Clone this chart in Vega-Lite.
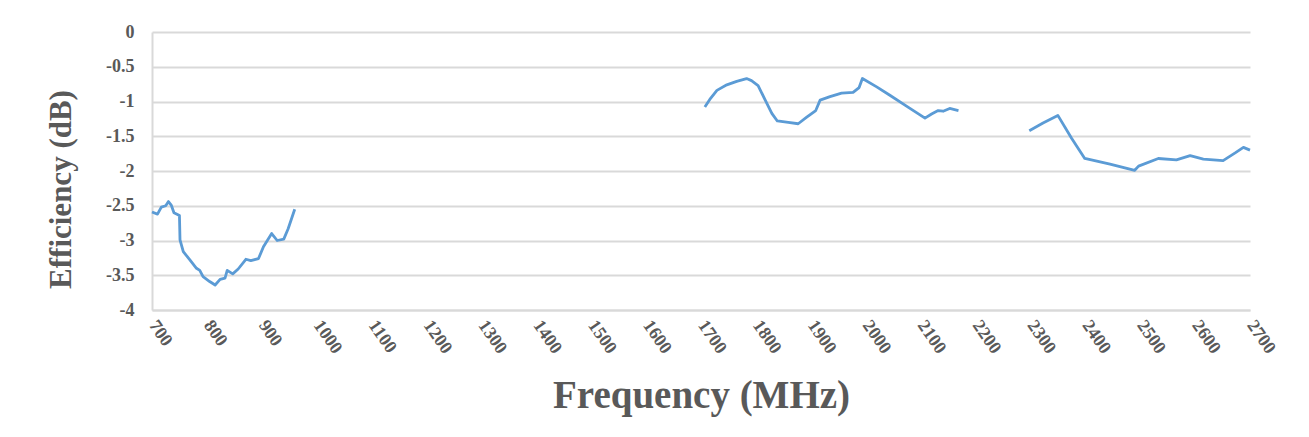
{
  "$schema": "https://vega.github.io/schema/vega-lite/v6.json",
  "autosize": {"type": "none"},
  "padding": {"left": 152, "top": 32, "right": 59, "bottom": 127},
  "width": 1098,
  "height": 278,
  "background": "white",
  "config": {
    "view": {"stroke": null},
    "font": "Liberation Serif"
  },
  "data": {
    "values": [
      {"seg": "a", "f": 700, "eff": -2.59},
      {"seg": "a", "f": 710, "eff": -2.62},
      {"seg": "a", "f": 717, "eff": -2.52},
      {"seg": "a", "f": 725, "eff": -2.5},
      {"seg": "a", "f": 730, "eff": -2.44},
      {"seg": "a", "f": 735, "eff": -2.49},
      {"seg": "a", "f": 740, "eff": -2.6},
      {"seg": "a", "f": 750, "eff": -2.64},
      {"seg": "a", "f": 751, "eff": -2.99},
      {"seg": "a", "f": 757, "eff": -3.16},
      {"seg": "a", "f": 769, "eff": -3.28},
      {"seg": "a", "f": 781, "eff": -3.4},
      {"seg": "a", "f": 787, "eff": -3.43},
      {"seg": "a", "f": 793, "eff": -3.52},
      {"seg": "a", "f": 805, "eff": -3.59},
      {"seg": "a", "f": 815, "eff": -3.64},
      {"seg": "a", "f": 824, "eff": -3.56},
      {"seg": "a", "f": 833, "eff": -3.54},
      {"seg": "a", "f": 837, "eff": -3.43},
      {"seg": "a", "f": 847, "eff": -3.48},
      {"seg": "a", "f": 857, "eff": -3.41},
      {"seg": "a", "f": 871, "eff": -3.27},
      {"seg": "a", "f": 880, "eff": -3.29},
      {"seg": "a", "f": 894, "eff": -3.26},
      {"seg": "a", "f": 903, "eff": -3.09},
      {"seg": "a", "f": 918, "eff": -2.9},
      {"seg": "a", "f": 928, "eff": -3.0},
      {"seg": "a", "f": 940, "eff": -2.98},
      {"seg": "a", "f": 948, "eff": -2.83},
      {"seg": "a", "f": 960, "eff": -2.55},
      {"seg": "b", "f": 1707, "eff": -1.08},
      {"seg": "b", "f": 1716, "eff": -0.97},
      {"seg": "b", "f": 1729, "eff": -0.84},
      {"seg": "b", "f": 1747, "eff": -0.76},
      {"seg": "b", "f": 1765, "eff": -0.71},
      {"seg": "b", "f": 1783, "eff": -0.67},
      {"seg": "b", "f": 1792, "eff": -0.7},
      {"seg": "b", "f": 1804, "eff": -0.77},
      {"seg": "b", "f": 1817, "eff": -0.98},
      {"seg": "b", "f": 1829, "eff": -1.17},
      {"seg": "b", "f": 1839, "eff": -1.28},
      {"seg": "b", "f": 1859, "eff": -1.3},
      {"seg": "b", "f": 1877, "eff": -1.32},
      {"seg": "b", "f": 1892, "eff": -1.23},
      {"seg": "b", "f": 1909, "eff": -1.13},
      {"seg": "b", "f": 1917, "eff": -0.98},
      {"seg": "b", "f": 1935, "eff": -0.93},
      {"seg": "b", "f": 1956, "eff": -0.88},
      {"seg": "b", "f": 1977, "eff": -0.87},
      {"seg": "b", "f": 1988, "eff": -0.8},
      {"seg": "b", "f": 1994, "eff": -0.67},
      {"seg": "b", "f": 2020, "eff": -0.79},
      {"seg": "b", "f": 2044, "eff": -0.91},
      {"seg": "b", "f": 2075, "eff": -1.07},
      {"seg": "b", "f": 2108, "eff": -1.24},
      {"seg": "b", "f": 2120, "eff": -1.18},
      {"seg": "b", "f": 2132, "eff": -1.13},
      {"seg": "b", "f": 2141, "eff": -1.14},
      {"seg": "b", "f": 2153, "eff": -1.1},
      {"seg": "b", "f": 2169, "eff": -1.13},
      {"seg": "c", "f": 2298, "eff": -1.42},
      {"seg": "c", "f": 2323, "eff": -1.31},
      {"seg": "c", "f": 2350, "eff": -1.2},
      {"seg": "c", "f": 2375, "eff": -1.53},
      {"seg": "c", "f": 2399, "eff": -1.82},
      {"seg": "c", "f": 2445, "eff": -1.9},
      {"seg": "c", "f": 2490, "eff": -1.99},
      {"seg": "c", "f": 2497, "eff": -1.93},
      {"seg": "c", "f": 2533, "eff": -1.82},
      {"seg": "c", "f": 2566, "eff": -1.84},
      {"seg": "c", "f": 2591, "eff": -1.78},
      {"seg": "c", "f": 2615, "eff": -1.83},
      {"seg": "c", "f": 2651, "eff": -1.85},
      {"seg": "c", "f": 2673, "eff": -1.74},
      {"seg": "c", "f": 2688, "eff": -1.66},
      {"seg": "c", "f": 2700, "eff": -1.7}
    ]
  },
  "mark": {"type": "line", "color": "#5B9BD5", "strokeWidth": 2.8, "strokeJoin": "round"},
  "encoding": {
    "detail": {"field": "seg", "type": "nominal"},
    "x": {
      "field": "f",
      "type": "quantitative",
      "scale": {"domain": [700, 2700], "nice": false, "zero": false},
      "axis": {
        "title": "Frequency (MHz)",
        "values": [700, 800, 900, 1000, 1100, 1200, 1300, 1400, 1500, 1600, 1700, 1800, 1900, 2000, 2100, 2200, 2300, 2400, 2500, 2600, 2700],
        "labelExpr": "datum.value + ''",
        "labelAngle": 55,
        "labelAlign": "left",
        "labelBaseline": "middle",
        "labelPadding": 12,
        "labelFont": "Liberation Serif",
        "labelFontWeight": "bold",
        "labelFontSize": 18,
        "labelColor": "#595959",
        "labelFlush": false,
        "labelOverlap": false,
        "ticks": false,
        "grid": false,
        "domain": true,
        "domainColor": "#d9d9d9",
        "domainWidth": 2,
        "titleFont": "Liberation Serif",
        "titleFontWeight": "bold",
        "titleFontSize": 39,
        "titleColor": "#595959",
        "titleY": 97,
        "titleBaseline": "alphabetic"
      }
    },
    "y": {
      "field": "eff",
      "type": "quantitative",
      "scale": {"domain": [-4, 0], "nice": false, "zero": false},
      "axis": {
        "title": "Efficiency (dB)",
        "values": [-4, -3.5, -3, -2.5, -2, -1.5, -1, -0.5, 0],
        "labelExpr": "datum.value + ''",
        "labelPadding": 18,
        "labelFont": "Liberation Serif",
        "labelFontWeight": "bold",
        "labelFontSize": 18,
        "labelColor": "#595959",
        "ticks": false,
        "grid": true,
        "gridColor": "#d9d9d9",
        "gridWidth": 2,
        "domain": true,
        "domainColor": "#d9d9d9",
        "domainWidth": 2,
        "titleFont": "Liberation Serif",
        "titleFontWeight": "bold",
        "titleFontSize": 31,
        "titleColor": "#595959",
        "titleAngle": -90,
        "titleX": -91,
        "titleY": 157,
        "titleAlign": "center",
        "titleBaseline": "middle"
      }
    }
  }
}
